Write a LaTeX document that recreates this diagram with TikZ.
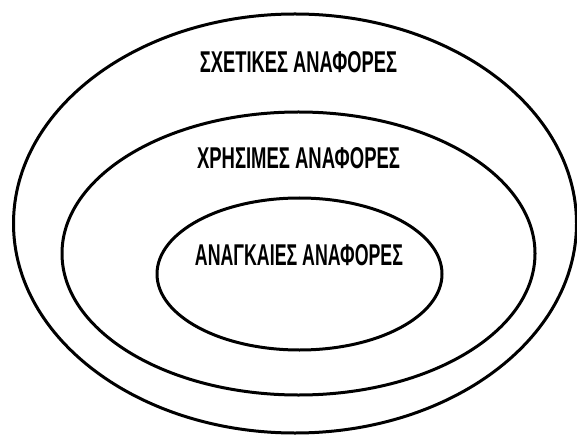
\documentclass[tikz,border=0pt]{standalone}
\usepackage{fontspec}
\usepackage{graphicx}
\newfontfamily\labelfont{Liberation Sans}
\tikzset{
  ring/.style={draw=black, line width=3pt},
  lbl/.style={inner sep=0pt, anchor=center}
}
\newcommand{\lbltext}[2]{\resizebox{#1}{21pt}{\labelfont\bfseries #2}}
\begin{document}
\begin{tikzpicture}[x=1pt,y=-1pt]
\useasboundingbox (0,0) rectangle (577,435);
\fill[white] (0,0) rectangle (577,435);
\begin{scope}
\clip (0,0) rectangle (577,435);
\draw[ring] (295,223.5) ellipse [x radius=281.5, y radius=209.5];
\end{scope}
\draw[ring] (298.5,253.5) ellipse [x radius=236.5, y radius=141.5];
\draw[ring] (299.5,274) ellipse [x radius=142.5, y radius=76];
\node[lbl] (relevant) at (298.5,62.5) {\lbltext{197pt}{ΣΧΕΤΙΚΕΣ ΑΝΑΦΟΡΕΣ}};
\node[lbl] (useful) at (298.5,158.5) {\lbltext{203pt}{ΧΡΗΣΙΜΕΣ ΑΝΑΦΟΡΕΣ}};
\node[lbl] (necessary) at (299,255.5) {\lbltext{208pt}{ΑΝΑΓΚΑΙΕΣ ΑΝΑΦΟΡΕΣ}};
\end{tikzpicture}
\end{document}
